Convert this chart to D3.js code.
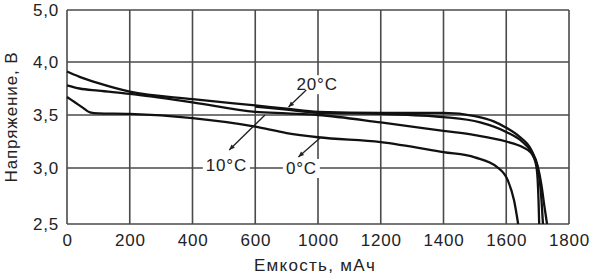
<!DOCTYPE html>
<html><head><meta charset="utf-8">
<script src="https://cdn.jsdelivr.net/npm/d3@7"></script>
<style>body{margin:0;background:#fff}svg{display:block}text{font-family:"Liberation Sans",Arial,sans-serif;fill:#222}</style>
</head><body>
<svg id="c" width="591" height="276"></svg>
<script>
// tick values (labels as printed in the original; 800 is skipped)
const xTicks = [0,200,400,600,1000,1200,1400,1600,1800];
const yTicks = [2.5,3.0,3.5,4.0,5.0];
const yTickLabels = ["2,5","3,0","3,5","4,0","5,0"];

// series: capacity (mAh) and voltage (V)
const cap20 = [0,40,100,200,400,600,800,1000,1200,1400,1500,1560,1600,1640,1680,1700,1712,1722,1730];
const volt20 = [3.91,3.86,3.80,3.72,3.65,3.59,3.56,3.53,3.52,3.52,3.49,3.44,3.38,3.30,3.17,3.02,2.85,2.65,2.50];
const capX = [600,800,1000,1200,1400,1517,1600,1650,1680,1700,1710,1717];
const voltX = [3.58,3.55,3.52,3.51,3.48,3.43,3.34,3.25,3.15,3.00,2.80,2.50];
const cap10 = [0,40,100,200,400,600,800,1000,1200,1400,1500,1600,1650,1680,1695,1700,1703,1705];
const volt10 = [3.78,3.75,3.73,3.70,3.62,3.53,3.515,3.50,3.43,3.35,3.31,3.25,3.20,3.14,3.03,2.90,2.70,2.50];
const cap0 = [0,25,50,73,100,200,400,600,800,1000,1200,1400,1500,1570,1605,1625,1638];
const volt0 = [3.67,3.62,3.57,3.525,3.515,3.51,3.47,3.39,3.33,3.29,3.245,3.15,3.10,3.01,2.89,2.71,2.50];

const labels = ["20°C","10°C","0°C"];
const labelX = [995,508,894];
const labelY = [3.79,3.028,3.0];
const arrowFromX = [925,662,1010], arrowFromY = [3.736,3.5,3.292];
const arrowToX = [812,517,875], arrowToY = [3.575,3.17,3.104];

const svg = d3.select("#c");
const L = 67, R = 569, T = 10, B = 224;
const step = (R - L) / (xTicks.length - 1);
const x = d3.scaleLinear().domain(xTicks).range(xTicks.map((d,i) => L + i*step));
const y = d3.scaleLinear().domain(yTicks).range([224,168,115,62,10]);

const grid = svg.append("g").attr("stroke","#4a4a4a").attr("stroke-width",1.6);
xTicks.forEach(t => grid.append("line").attr("x1",x(t)).attr("x2",x(t)).attr("y1",T).attr("y2",B));
yTicks.forEach(t => grid.append("line").attr("x1",L).attr("x2",R).attr("y1",y(t)).attr("y2",y(t)));

const xa = d3.axisBottom(x).tickValues(xTicks).tickSize(0).tickPadding(10).tickFormat(d => d);
svg.append("g").attr("transform",`translate(0,${B})`).call(xa)
  .call(g => g.select(".domain").remove())
  .selectAll("text").attr("font-size",17).attr("letter-spacing","0.8px").attr("fill","#222").attr("font-family","Liberation Sans, Arial, sans-serif");
const ya = d3.axisLeft(y).tickValues(yTicks).tickSize(0).tickPadding(8).tickFormat((d,i) => yTickLabels[i]);
svg.append("g").attr("transform",`translate(${L},0)`).call(ya)
  .call(g => g.select(".domain").remove())
  .selectAll("text").attr("font-size",17).attr("letter-spacing","0.8px").attr("fill","#222").attr("font-family","Liberation Sans, Arial, sans-serif");

svg.append("text").attr("x",315).attr("y",271).attr("text-anchor","middle")
  .attr("font-size",17).attr("letter-spacing","1.3px").text("Емкость, мАч");
svg.append("text").attr("transform","translate(17,117) rotate(-90)").attr("text-anchor","middle")
  .attr("font-size",17).attr("letter-spacing","0.9px").text("Напряжение, В");

const line = d3.line().x(d => x(d[0])).y(d => y(d[1])).curve(d3.curveMonotoneX);
const series = [[cap20,volt20],[capX,voltX],[cap10,volt10],[cap0,volt0]];
series.forEach(([c,v]) => {
  svg.append("path").datum(c.map((d,i) => [d,v[i]]))
    .attr("d",line).attr("fill","none").attr("stroke","#111").attr("stroke-width",2.3);
});

// annotations
labels.forEach((t,i) => {
  const tx = svg.append("text").attr("x",x(labelX[i])).attr("y",y(labelY[i])).attr("dy","0.35em")
    .attr("text-anchor","middle").attr("font-size",17).attr("letter-spacing","0.8px").text(t);
  const bb = tx.node().getBBox();
  svg.insert("rect", () => tx.node()).attr("x",bb.x-3).attr("y",bb.y).attr("width",bb.width+6).attr("height",bb.height).attr("fill","#fff");
  const x1 = x(arrowFromX[i]), y1 = y(arrowFromY[i]), x2 = x(arrowToX[i]), y2 = y(arrowToY[i]);
  svg.append("line").attr("x1",x1).attr("y1",y1).attr("x2",x2).attr("y2",y2).attr("stroke","#222").attr("stroke-width",1.3);
  const a = Math.atan2(y2-y1,x2-x1), s = 6;
  svg.append("path").attr("d",`M${x2},${y2}L${x2-s*Math.cos(a-0.4)},${y2-s*Math.sin(a-0.4)}L${x2-s*Math.cos(a+0.4)},${y2-s*Math.sin(a+0.4)}Z`).attr("fill","#222");
});
</script>
</body></html>
